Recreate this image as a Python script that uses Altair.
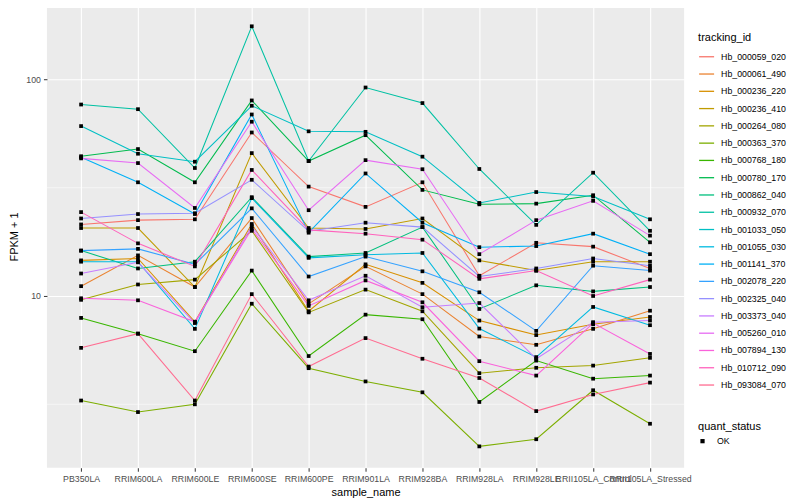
import altair as alt
import pandas as pd

samples = ["PB350LA", "RRIM600LA", "RRIM600LE", "RRIM600SE", "RRIM600PE", "RRIM901LA",
           "RRIM928BA", "RRIM928LA", "RRIM928LE", "RRII105LA_Control", "RRII105LA_Stressed"]

tracking_ids = ["Hb_000059_020", "Hb_000061_490", "Hb_000236_220", "Hb_000236_410", "Hb_000264_080",
                "Hb_000363_370", "Hb_000768_180", "Hb_000780_170", "Hb_000862_040", "Hb_000932_070",
                "Hb_001033_050", "Hb_001055_030", "Hb_001141_370", "Hb_002078_220", "Hb_002325_040",
                "Hb_003373_040", "Hb_005260_010", "Hb_007894_130", "Hb_010712_090", "Hb_093084_070"]

colors = ["#F8766D", "#EA8331", "#D89000", "#C09B00", "#A3A500", "#7CAE00", "#39B600", "#00BB4E",
          "#00BF7D", "#00C1A3", "#00BFC4", "#00BAE0", "#00B0F6", "#35A2FF", "#9590FF", "#C77CFF",
          "#E76BF3", "#FA62DB", "#FF62BC", "#FF6C91"]

# FPKM + 1 values, one list per tracking_id, in sample order
hb_000059_020 = [21.4, 22.4, 22.6, 56.9, 32.0, 25.8, 33.5, 12.4, 17.6, 16.9, 13.4]
hb_000061_490 = [11.1, 15.4, 11.0, 22.9, 9.2, 13.7, 10.2, 6.5, 5.95, 7.05, 8.55]
hb_000236_220 = [14.6, 14.9, 7.6, 21.5, 8.5, 14.0, 11.5, 7.7, 6.6, 7.4, 8.0]
hb_000236_410 = [20.6, 20.6, 11.0, 45.7, 20.6, 20.4, 22.8, 14.6, 13.1, 14.4, 14.4]
hb_000264_080 = [9.6, 11.3, 11.9, 20.0, 8.4, 10.7, 8.5, 4.4, 4.66, 4.77, 5.18]
hb_000363_370 = [3.29, 2.91, 3.16, 9.21, 4.64, 4.03, 3.59, 2.02, 2.18, 3.67, 2.57]
hb_000768_180 = [7.92, 6.70, 5.56, 13.1, 5.28, 8.20, 7.81, 3.24, 5.03, 4.15, 4.29]
hb_000780_170 = [44.2, 47.7, 33.5, 80.0, 42.0, 55.3, 30.9, 26.5, 26.7, 29.2, 17.7]
hb_000862_040 = [16.2, 13.4, 14.4, 28.6, 15.2, 15.8, 20.8, 8.71, 11.2, 10.5, 11.0]
hb_000932_070 = [76.6, 72.9, 39.0, 176.0, 42.0, 91.8, 77.8, 38.6, 21.3, 37.1, 20.0]
hb_001033_050 = [60.9, 45.4, 41.7, 75.6, 57.6, 57.3, 44.0, 26.9, 30.2, 28.8, 22.6]
hb_001055_030 = [14.4, 14.4, 7.05, 28.3, 15.0, 15.5, 15.8, 7.07, 5.22, 8.9, 7.33]
hb_001141_370 = [43.7, 33.5, 23.9, 68.9, 19.6, 36.8, 21.8, 16.8, 17.0, 19.4, 15.6]
hb_002078_220 = [16.2, 16.5, 14.0, 25.4, 12.3, 15.2, 13.0, 10.4, 6.9, 13.8, 13.1]
hb_002325_040 = [22.8, 23.9, 24.1, 34.4, 19.9, 21.8, 20.8, 12.3, 13.4, 14.9, 13.8]
hb_003373_040 = [12.7, 14.3, 7.5, 21.0, 9.55, 12.4, 8.87, 9.28, 5.13, 7.57, 7.7]
hb_005260_010 = [43.2, 41.1, 25.5, 63.8, 24.9, 42.4, 38.5, 15.6, 22.4, 27.5, 19.0]
hb_007894_130 = [9.76, 9.55, 7.6, 20.4, 9.0, 11.8, 9.35, 5.0, 4.29, 7.5, 5.4]
hb_010712_090 = [24.4, 17.5, 13.7, 38.2, 20.2, 19.4, 18.2, 12.0, 13.1, 10.0, 11.9]
hb_093084_070 = [5.76, 6.70, 3.29, 10.2, 4.72, 6.39, 5.13, 4.18, 2.94, 3.51, 3.98]

series = [hb_000059_020, hb_000061_490, hb_000236_220, hb_000236_410, hb_000264_080,
          hb_000363_370, hb_000768_180, hb_000780_170, hb_000862_040, hb_000932_070,
          hb_001033_050, hb_001055_030, hb_001141_370, hb_002078_220, hb_002325_040,
          hb_003373_040, hb_005260_010, hb_007894_130, hb_010712_090, hb_093084_070]

y_major = [10, 100]
y_minor = [3.1623, 31.623]
y_domain = [1.61, 220]

rows = []
for tid, vals in zip(tracking_ids, series):
    for s, v in zip(samples, vals):
        rows.append({"tracking_id": tid, "sample_name": s, "fpkm1": v, "quant_status": "OK"})
df = pd.DataFrame(rows)

FONT = "Liberation Sans"

x_enc = alt.X("sample_name:N", sort=samples,
              scale=alt.Scale(type="point", padding=0.6),
              axis=alt.Axis(title="sample_name", labelAngle=0, labelOverlap=False, grid=True,
                            labelFlush=False))
y_scale = alt.Scale(type="log", domain=y_domain, nice=False)
y_axis = alt.Axis(title="FPKM + 1", values=y_major, format="d", grid=True)

minor = alt.Chart(pd.DataFrame({"fpkm1": y_minor})).mark_rule(
    color="white", strokeWidth=0.55
).encode(y=alt.Y("fpkm1:Q", scale=y_scale, axis=y_axis))

lines = alt.Chart(df).mark_line(strokeWidth=1.05).encode(
    x=x_enc,
    y=alt.Y("fpkm1:Q", scale=y_scale, axis=y_axis),
    color=alt.Color("tracking_id:N", scale=alt.Scale(domain=tracking_ids, range=colors),
                    legend=alt.Legend(title="tracking_id", orient="none", legendX=652, legendY=27,
                                      symbolType="stroke", symbolSize=225, symbolStrokeWidth=1.3,
                                      rowPadding=3.3, labelOffset=6)),
)

points = alt.Chart(df).mark_point(filled=True, color="black", size=14, opacity=1).encode(
    x=x_enc,
    y=alt.Y("fpkm1:Q", scale=y_scale, axis=y_axis),
    shape=alt.Shape("quant_status:N", scale=alt.Scale(range=["square"]),
                    legend=alt.Legend(title="quant_status", orient="none", legendX=652, legendY=416,
                                      symbolSize=18, symbolFillColor="black", symbolStrokeColor="black",
                                      labelOffset=10)),
)

chart = alt.layer(minor, lines, points).properties(
    width=638, height=463,
    padding={"left": 0, "top": -3, "right": 5, "bottom": 0}
).configure_view(
    fill="#EBEBEB", strokeWidth=0
).configure_axis(
    gridColor="white", gridWidth=1.1, domain=False, tickColor="#333333", tickSize=3.5,
    labelColor="#4D4D4D", labelFontSize=8.8, labelFont=FONT, titleFont=FONT,
    titleFontSize=11, titleFontWeight="normal", titleColor="black", labelPadding=3
).configure_axisY(
    titlePadding=6
).configure_axisX(
    titlePadding=4
).configure_legend(
    titleFont=FONT, labelFont=FONT, titleFontSize=11, titleFontWeight="normal",
    labelFontSize=8.8, labelColor="black", titleColor="black", titlePadding=5,
    rowPadding=3.3
)

chart.save("out.html", embed_options={"renderer": "svg", "actions": False})
